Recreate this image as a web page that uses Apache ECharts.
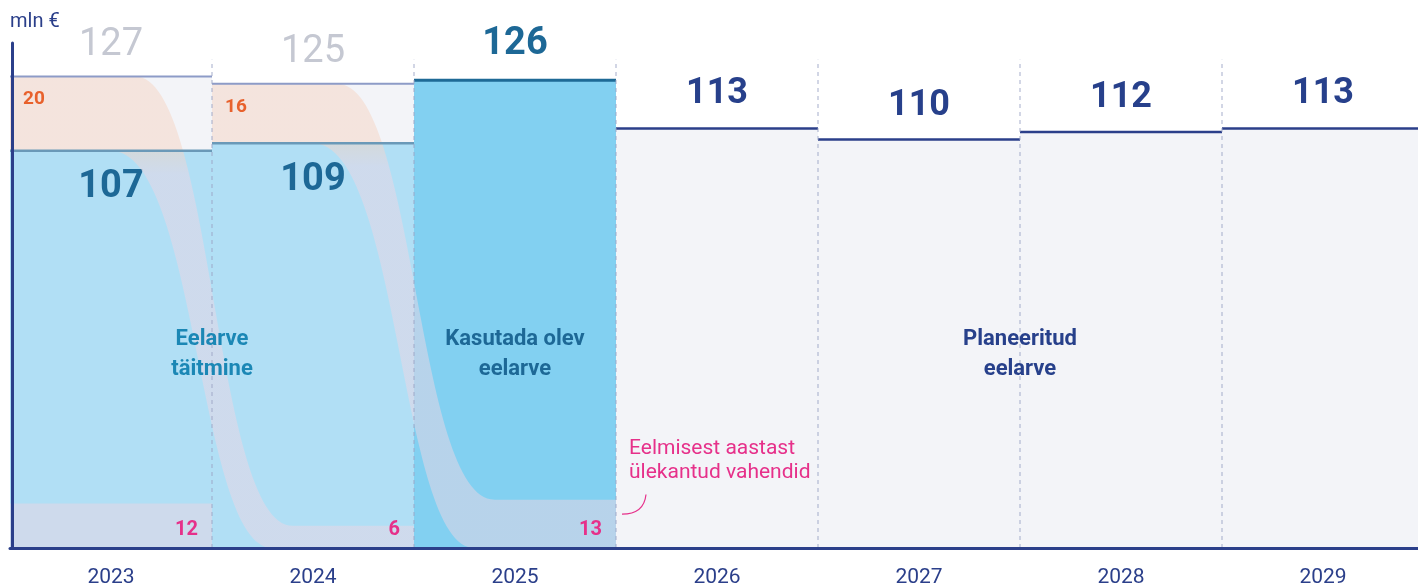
<!DOCTYPE html>
<html>
<head>
<meta charset="utf-8">
<script src="https://cdn.jsdelivr.net/npm/echarts@6/dist/echarts.min.js"></script>
<style>
  html, body { margin: 0; padding: 0; background: #fff; }
  #chart { width: 1418px; height: 587px; }
</style>
</head>
<body>
<div id="chart"></div>
<script>
// data
const years = ['2023', '2024', '2025', '2026', '2027', '2028', '2029'];
const phase = ['actual', 'actual', 'current', 'plan', 'plan', 'plan', 'plan'];
const budget = [127, 125, 126, 113, 110, 112, 113];
const spent = [107, 109, null, null, null, null, null];
const unspent = [20, 16, null, null, null, null, null];
const carried = [12, 6, 13, null, null, null, null];

const NAVY = '#2b3f8a';
const TEAL = '#1d6896';
const PINK = '#e6308a';
const ORANGE = '#e8612c';
const SEP_TOP = 131.5;

const chart = echarts.init(document.getElementById('chart'));

function hLine(params, api) {
  const p = api.coord([api.value(0), api.value(1)]);
  const bw = api.size([1, 0])[0];
  return {
    type: 'line',
    shape: { x1: p[0] - bw / 2, y1: p[1], x2: p[0] + bw / 2, y2: p[1] },
    style: { stroke: api.visual('color'), lineWidth: api.value(2) }
  };
}

// carry-over band from unspent part of year i to bottom of year i+1
function flowBand(params, api) {
  const i = api.value(0);
  const bw = api.size([1, 0])[0];
  const cx = api.coord([i, 0])[0];
  const left = cx - bw / 2, B = cx + bw / 2, end = B + bw;
  const yT0 = api.coord([i, api.value(1)])[1];
  const yB0 = api.coord([i, api.value(2)])[1];
  const yT1 = api.coord([i + 1, api.value(3)])[1];
  const yB1 = api.coord([i + 1, 0])[1];
  const d = [
    'M', left, yT0, 'L', B - 0.38 * bw, yT0,
    'C', B + 0.01 * bw, yT0, B + 0.01 * bw, yT1, B + 0.4 * bw, yT1,
    'L', end, yT1, 'L', end, yB1, 'L', B + 0.3 * bw, yB1,
    'C', B - 0.07 * bw, yB1, B - 0.07 * bw, yB0, B - 0.5 * bw, yB0,
    'L', left, yB0, 'Z'
  ].join(' ');
  const p = (yB0 - yT0) / (yB1 - yT0);
  return {
    type: 'path',
    shape: { pathData: d },
    style: {
      fill: {
        type: 'linear', x: 0, y: yT0, x2: 0, y2: yB1, global: true,
        colorStops: [
          { offset: 0, color: 'rgba(245,212,195,0.5)' },
          { offset: p, color: 'rgba(245,212,195,0.5)' },
          { offset: Math.min(1, p + 0.05), color: 'rgba(236,214,228,0.5)' },
          { offset: 1, color: 'rgba(236,214,228,0.5)' }
        ]
      }
    }
  };
}

const notes = [
  { text: 'Eelarve\ntäitmine', cat: 0, dx: 0.5, v: 52, color: '#1b87b5' },
  { text: 'Kasutada olev\neelarve', cat: 2, dx: 0, v: 52, color: TEAL },
  { text: 'Planeeritud\neelarve', cat: 4, dx: 0.5, v: 52, color: '#27408b' }
];

const budgetLineColor = { actual: '#8d9bc7', current: '#1e6a96', plan: NAVY };
const budgetLineWidth = { actual: 2, current: 3, plan: 2.5 };

const budgetLabel = {
  actual: { color: '#c5c8d2', fontWeight: 'normal', fontSize: 38, distance: 12 },
  plan: { color: '#27408b', fontWeight: 'bold', fontSize: 36, distance: 16 }
};

const option = {
  animation: false,
  textStyle: { fontFamily: 'Roboto' },
  grid: { left: 10, top: 43, width: 1414, height: 505, outerBoundsMode: 'none' },
  xAxis: {
    type: 'category',
    data: years,
    z: 10,
    axisLine: { lineStyle: { color: NAVY, width: 3 } },
    axisTick: { show: false },
    axisLabel: { color: NAVY, fontSize: 21, margin: 19 },
    splitLine: { show: false }
  },
  yAxis: {
    type: 'value',
    min: 0,
    max: 136,
    z: 10,
    offset: -2,
    name: 'mln €',
    nameLocation: 'end',
    nameGap: 11,
    nameTextStyle: { color: NAVY, fontSize: 20, align: 'left', padding: [0, 0, 0, -2] },
    axisLine: { show: true, lineStyle: { color: NAVY, width: 3 } },
    axisTick: { show: false },
    axisLabel: { show: false },
    splitLine: { show: false }
  },
  series: [
    {
      name: 'Eelarve',
      type: 'bar',
      barWidth: '100%',
      barGap: '-100%',
      itemStyle: { color: '#f3f4f8' },
      data: budget.map((v, i) => phase[i] === 'current' ? '-' : {
        value: v,
        label: Object.assign({ show: true, position: 'top' }, budgetLabel[phase[i]])
      })
    },
    {
      name: 'Eelarve täitmine',
      type: 'bar',
      barWidth: '100%',
      barGap: '-100%',
      itemStyle: { color: '#b1dff5' },
      label: { show: true, position: 'insideTop', distance: 18, color: TEAL, fontWeight: 'bold', fontSize: 38 },
      data: spent.map(v => v == null ? '-' : v)
    },
    {
      name: 'Kasutada olev eelarve',
      type: 'bar',
      barWidth: '100%',
      barGap: '-100%',
      itemStyle: { color: '#82d0f1' },
      label: { show: true, position: 'top', distance: 17, color: TEAL, fontWeight: 'bold', fontSize: 38 },
      data: budget.map((v, i) => phase[i] === 'current' ? v : '-')
    },
    {
      name: 'Ülekanne',
      type: 'bar',
      barWidth: '100%',
      barGap: '-100%',
      itemStyle: { color: 'rgba(236,214,228,0.5)' },
      data: carried.map((v, i) => i === 0 ? v : '-')
    },
    {
      name: 'flows',
      type: 'custom',
      z: 3,
      renderItem: flowBand,
      data: phase.map((p, i) => p === 'actual' ? [i, budget[i], spent[i], carried[i + 1]] : null).filter(d => d)
    },
    {
      name: 'budget lines',
      type: 'custom',
      z: 4,
      renderItem: hLine,
      data: budget.map((v, i) => ({
        value: [i, v, budgetLineWidth[phase[i]]],
        itemStyle: { color: budgetLineColor[phase[i]] }
      }))
    },
    {
      name: 'spent lines',
      type: 'custom',
      z: 4,
      renderItem: hLine,
      itemStyle: { color: '#6a99b8' },
      data: spent.map((v, i) => v == null ? null : [i, v, 2.5]).filter(d => d)
    },
    {
      name: 'separators',
      type: 'custom',
      z: 5,
      renderItem: (params, api) => {
        const i = api.value(0);
        const bw = api.size([1, 0])[0];
        const b = api.coord([i, 0]);
        const t = api.coord([i, SEP_TOP]);
        return {
          type: 'line',
          shape: { x1: b[0] - bw / 2, y1: b[1], x2: b[0] - bw / 2, y2: t[1] },
          style: { stroke: 'rgba(155,165,198,0.6)', lineWidth: 1.5, lineDash: [4, 4] }
        };
      },
      data: years.slice(1).map((y, k) => [k + 1, 0])
    },
    {
      name: 'unspent labels',
      type: 'custom',
      z: 6,
      renderItem: (params, api) => {
        const i = api.value(0);
        const bw = api.size([1, 0])[0];
        const p = api.coord([i, api.value(1)]);
        return {
          type: 'text',
          x: p[0] - bw / 2 + 13, y: p[1] + 23,
          style: { text: String(api.value(2)), fill: ORANGE, fontFamily: 'Roboto', fontWeight: 'bold', fontSize: 19, align: 'left', verticalAlign: 'middle' }
        };
      },
      data: unspent.map((v, i) => v == null ? null : [i, budget[i], v]).filter(d => d)
    },
    {
      name: 'carried labels',
      type: 'custom',
      z: 6,
      renderItem: (params, api) => {
        const i = api.value(0);
        const bw = api.size([1, 0])[0];
        const p = api.coord([i, 0]);
        return {
          type: 'text',
          x: p[0] + bw / 2 - 14, y: p[1] - 18,
          style: { text: String(api.value(1)), fill: PINK, fontFamily: 'Roboto', fontWeight: 'bold', fontSize: 20, align: 'right', verticalAlign: 'middle' }
        };
      },
      data: carried.map((v, i) => v == null ? null : [i, v]).filter(d => d)
    },
    {
      name: 'notes',
      type: 'custom',
      z: 6,
      renderItem: (params, api) => {
        const n = notes[params.dataIndex];
        const bw = api.size([1, 0])[0];
        const p = api.coord([n.cat, n.v]);
        return {
          type: 'text',
          x: p[0] + n.dx * bw, y: p[1],
          style: { text: n.text, fill: n.color, fontFamily: 'Roboto', fontWeight: 'bold', fontSize: 22, lineHeight: 30, align: 'center', verticalAlign: 'middle' }
        };
      },
      data: notes.map((n, k) => [k, n.v])
    },
    {
      name: 'carry note',
      type: 'custom',
      z: 6,
      renderItem: (params, api) => {
        const i = api.value(0);
        const bw = api.size([1, 0])[0];
        const B = api.coord([i, 0])[0] + bw / 2;
        const yText = api.coord([i, 23.4])[1];
        const y1 = api.coord([i, 14.4])[1];
        const y2 = api.coord([i, 9.1])[1];
        return {
          type: 'group',
          children: [
            {
              type: 'text',
              x: B + 13, y: yText,
              style: { text: 'Eelmisest aastast\nülekantud vahendid', fill: PINK, fontFamily: 'Roboto', fontSize: 21, lineHeight: 24, align: 'left', verticalAlign: 'middle' }
            },
            {
              type: 'path',
              shape: { pathData: ['M', B + 30, y1, 'Q', B + 28, y2, B + 6, y2].join(' ') },
              style: { stroke: PINK, lineWidth: 1.2, fill: null }
            }
          ]
        };
      },
      data: [[2, 0]]
    }
  ]
};

chart.setOption(option);
</script>
</body>
</html>
